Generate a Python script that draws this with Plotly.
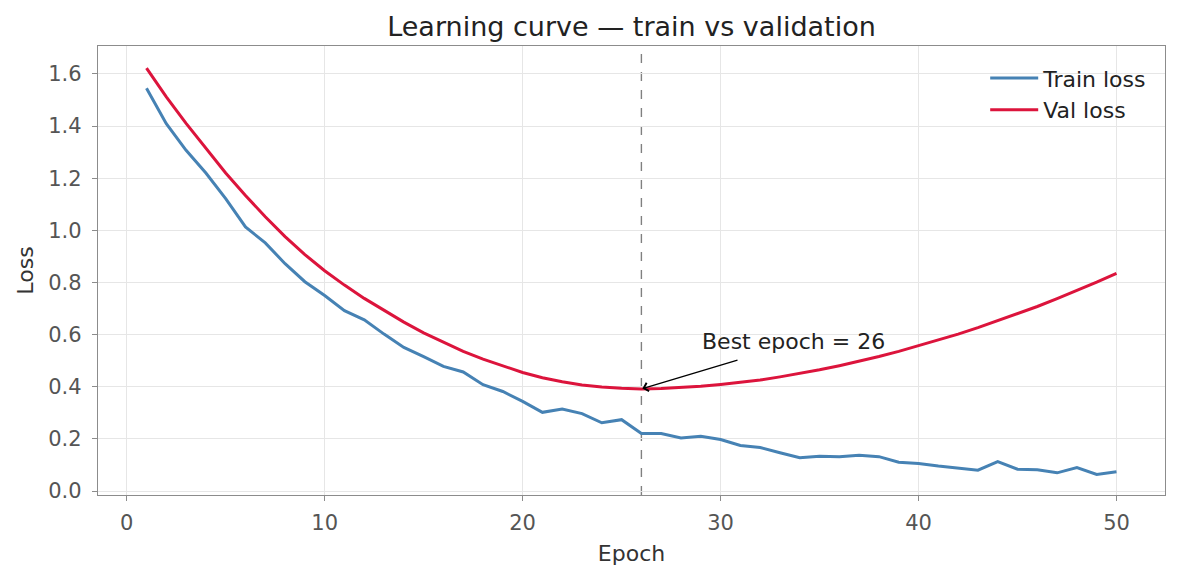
import plotly.graph_objects as go

epochs = list(range(1, 51))

train_loss = [
    1.545, 1.409, 1.307, 1.220, 1.122, 1.013, 0.952, 0.872, 0.803, 0.750,
    0.692, 0.657, 0.602, 0.551, 0.516, 0.478, 0.457, 0.408, 0.382, 0.344,
    0.302, 0.315, 0.297, 0.262, 0.274, 0.221, 0.221, 0.204, 0.210, 0.198,
    0.175, 0.167, 0.147, 0.128, 0.134, 0.132, 0.137, 0.132, 0.111, 0.106,
    0.096, 0.087, 0.080, 0.113, 0.084, 0.082, 0.070, 0.090, 0.064, 0.074,
]

val_loss = [
    1.622, 1.512, 1.410, 1.313, 1.220, 1.134, 1.052, 0.976, 0.907, 0.845,
    0.790, 0.739, 0.692, 0.648, 0.607, 0.570, 0.536, 0.506, 0.479, 0.455,
    0.435, 0.419, 0.407, 0.399, 0.394, 0.392, 0.393, 0.397, 0.402, 0.409,
    0.417, 0.426, 0.438, 0.451, 0.465, 0.481, 0.498, 0.516, 0.536, 0.557,
    0.579, 0.602, 0.627, 0.653, 0.680, 0.708, 0.738, 0.769, 0.801, 0.835,
]

best_epoch = 26
best_val = val_loss[best_epoch - 1]

x_ticks = [0, 10, 20, 30, 40, 50]
y_ticks = [0.0, 0.2, 0.4, 0.6, 0.8, 1.0, 1.2, 1.4, 1.6]

FONT = "DejaVu Sans"
GRID = "#e6e6e6"
SPINE = "#8c8c8c"

fig = go.Figure()
fig.add_trace(go.Scatter(x=epochs, y=train_loss, mode="lines", name="Train loss",
                         line=dict(color="#4682B4", width=3)))
fig.add_trace(go.Scatter(x=epochs, y=val_loss, mode="lines", name="Val loss",
                         line=dict(color="#DC143C", width=3)))

fig.add_shape(type="line", x0=best_epoch, x1=best_epoch, xref="x", y0=0, y1=1, yref="paper",
              line=dict(color="#808080", width=1.4, dash="dash"), layer="below")

# arrow
fig.add_annotation(x=best_epoch, y=best_val, xref="x", yref="y",
                   ax=30.93, ay=0.504, axref="x", ayref="y",
                   text="", showarrow=True, arrowhead=4, arrowsize=1.3,
                   arrowwidth=1.3, arrowcolor="black", standoff=1)
# label
fig.add_annotation(x=28.96, y=0.572, xref="x", yref="y", text="Best epoch = 26",
                   showarrow=False, xanchor="left", yanchor="middle",
                   font=dict(family=FONT, size=22, color="#222222"))

fig.update_layout(
    width=1181, height=580,
    margin=dict(l=98, r=16, t=46, b=85),
    paper_bgcolor="white", plot_bgcolor="white",
    font=dict(family=FONT, size=21, color="#444444"),
    title=dict(text="Learning curve — train vs validation", x=0.5, xref="paper",
               y=1 - 27 / 580, yref="container", xanchor="center", yanchor="middle",
               font=dict(family=FONT, size=27, color="#222222")),
    showlegend=True,
    legend=dict(x=0.988, y=0.975, xanchor="right", yanchor="top",
                bgcolor="rgba(255,255,255,0)", borderwidth=0,
                font=dict(family=FONT, size=22, color="#222222"),
                itemwidth=48, tracegroupgap=4),
)

fig.update_xaxes(
    range=[-1.45, 52.45], tickvals=x_ticks, ticktext=[str(v) for v in x_ticks],
    showgrid=True, gridcolor=GRID, gridwidth=1, zeroline=False,
    showline=True, linecolor=SPINE, linewidth=1.3, mirror=True,
    ticks="outside", ticklen=5, tickwidth=1.2, tickcolor=SPINE,
    ticklabelstandoff=4,
    tickfont=dict(family=FONT, size=21, color="#555555"),
    title=dict(text="Epoch", font=dict(family=FONT, size=22, color="#333333"), standoff=11),
)
fig.update_yaxes(
    range=[-0.015, 1.707], tickvals=y_ticks, ticktext=[f"{v:.1f}" for v in y_ticks],
    showgrid=True, gridcolor=GRID, gridwidth=1, zeroline=False,
    showline=True, linecolor=SPINE, linewidth=1.3, mirror=True,
    ticks="outside", ticklen=5, tickwidth=1.2, tickcolor=SPINE,
    ticklabelstandoff=6,
    tickfont=dict(family=FONT, size=21, color="#555555"),
    title=dict(text="Loss", font=dict(family=FONT, size=22, color="#333333"), standoff=8),
)

fig.write_html("out.html")
